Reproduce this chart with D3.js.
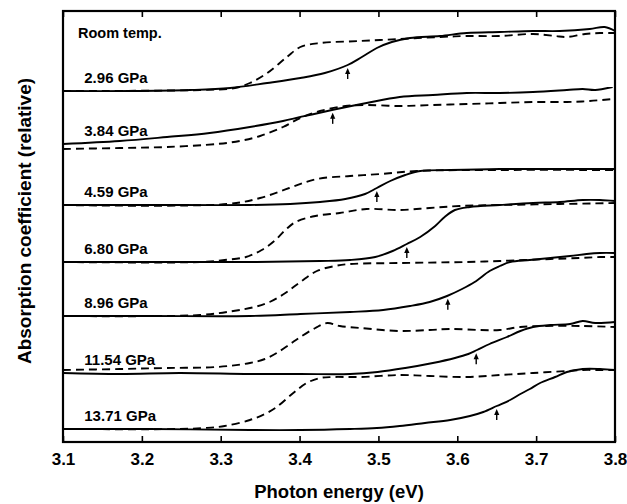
<!DOCTYPE html>
<meta charset="utf-8">
<style>
  body { margin: 0; background: #fff; }
  text { font-family: "Liberation Sans", Arial, sans-serif; font-weight: bold; fill: #000; }
  .frame { fill: none; stroke: #000; stroke-width: 2.2px; }
  .solid { fill: none; stroke: #000; stroke-width: 1.9px; }
  .dashed { fill: none; stroke: #000; stroke-width: 1.9px; stroke-dasharray: 8,5; }
  .axis path { display: none; }
  .axis line { stroke: #000; stroke-width: 1.6px; }
</style>
<body>
<svg width="627" height="504"></svg>
<script src="https://d3js.org/d3.v7.min.js"></script>
<script>

// photon energy ticks (eV)
var energyTicks = [3.1, 3.2, 3.3, 3.4, 3.5, 3.6, 3.7, 3.8];

var pressures = ["2.96 GPa", "3.84 GPa", "4.59 GPa", "6.80 GPa", "8.96 GPa", "11.54 GPa", "13.71 GPa"];
// vertical offset of each spectrum (arbitrary units)
var offsets = [351, 298, 237, 180, 126, 69, 13];
// absorption edge marked by an arrow (eV)
var edgeEnergy = [3.461, 3.442, 3.498, 3.536, 3.588, 3.624, 3.650];

// [energy, absorption above offset]
var solid296 = [[3.10,0],[3.185,0],[3.261,1],[3.312,3],[3.359,8],[3.401,13],[3.432,18],[3.461,26],[3.479,34],[3.498,43],[3.517,49],[3.540,53],[3.578,55],[3.612,58],[3.654,59],[3.696,60],[3.730,60],[3.768,62],[3.787,64],[3.800,60]];
var dash296 = [[3.10,0],[3.274,1],[3.318,3],[3.337,8],[3.359,18],[3.384,34],[3.401,44],[3.426,48],[3.477,50],[3.527,52],[3.578,54],[3.612,55],[3.654,55],[3.696,57],[3.724,55],[3.739,54],[3.762,57],[3.781,58],[3.800,58]];

var solid384 = [[3.10,0],[3.172,3],[3.232,7],[3.286,11],[3.337,17],[3.379,23],[3.401,27],[3.441,34],[3.485,41],[3.527,47],[3.569,49],[3.612,51],[3.654,51],[3.696,52],[3.739,54],[3.759,55],[3.775,54],[3.797,57]];
var dash384 = [[3.10,-5],[3.172,-4],[3.232,-3],[3.295,0],[3.324,3],[3.350,8],[3.379,17],[3.401,26],[3.426,33],[3.458,38],[3.485,39],[3.527,38],[3.569,39],[3.612,40],[3.654,41],[3.696,42],[3.739,42],[3.768,43],[3.797,45]];

var solid459 = [[3.10,0],[3.21,0],[3.337,0],[3.388,1],[3.426,3],[3.458,6],[3.483,11],[3.498,17],[3.515,24],[3.534,30],[3.553,34],[3.591,35],[3.654,36],[3.718,36],[3.781,36],[3.80,36]];
var dash459 = [[3.10,0],[3.309,1],[3.35,7],[3.387,17],[3.422,26],[3.464,29],[3.503,31],[3.549,34],[3.654,35],[3.80,35]];

var solid680 = [[3.10,0],[3.21,0],[3.337,0],[3.426,1],[3.464,2],[3.496,5],[3.518,11],[3.536,18],[3.553,25],[3.572,36],[3.584,45],[3.597,52],[3.616,55],[3.654,57],[3.696,59],[3.73,60],[3.759,62],[3.781,62],[3.80,61]];
var dash680 = [[3.10,0],[3.274,0],[3.305,2],[3.332,5],[3.352,12],[3.368,21],[3.382,32],[3.395,40],[3.42,46],[3.451,49],[3.485,53],[3.527,52],[3.565,54],[3.603,56],[3.654,57],[3.73,58],[3.80,59]];

var solid896 = [[3.10,0],[3.21,0],[3.337,0],[3.401,2],[3.464,4],[3.506,6],[3.54,10],[3.565,14],[3.587,20],[3.606,27],[3.622,34],[3.641,45],[3.654,50],[3.667,54],[3.692,56],[3.718,58],[3.743,60],[3.764,62],[3.781,63],[3.80,63]];
var dash896 = [[3.10,0],[3.274,1],[3.316,5],[3.343,9],[3.362,14],[3.382,23],[3.401,34],[3.422,45],[3.445,50],[3.464,52],[3.527,53],[3.612,54],[3.654,55],[3.718,57],[3.756,58],[3.781,59],[3.80,59]];

var solid1154 = [[3.10,0],[3.172,-1],[3.248,0],[3.337,-1],[3.401,-1],[3.464,-1],[3.499,1],[3.534,5],[3.569,10],[3.597,15],[3.614,19],[3.625,23],[3.641,29],[3.663,36],[3.68,42],[3.696,46],[3.718,48],[3.743,49],[3.759,52],[3.775,50],[3.80,51]];
var dash1154 = [[3.10,3],[3.172,4],[3.232,5],[3.295,6],[3.337,10],[3.356,14],[3.371,20],[3.388,29],[3.401,36],[3.42,45],[3.435,50],[3.451,47],[3.477,45],[3.527,42],[3.565,43],[3.591,44],[3.629,43],[3.654,43],[3.68,46],[3.711,47],[3.759,47],[3.80,46]];

var solid1371 = [[3.10,0],[3.21,0],[3.337,-1],[3.401,-1],[3.464,0],[3.498,1],[3.527,3],[3.559,6],[3.591,9],[3.616,13],[3.633,17],[3.65,23],[3.667,29],[3.68,35],[3.692,40],[3.705,46],[3.724,52],[3.739,57],[3.759,60],[3.781,60],[3.80,59]];
var dash1371 = [[3.10,0],[3.248,0],[3.28,1],[3.305,3],[3.337,9],[3.356,15],[3.371,22],[3.392,36],[3.409,46],[3.426,51],[3.442,52],[3.477,52],[3.527,54],[3.565,53],[3.612,52],[3.654,54],[3.696,56],[3.739,58],[3.759,59],[3.781,59],[3.80,59]];

var solids = [solid296, solid384, solid459, solid680, solid896, solid1154, solid1371];
var dashes = [dash296, dash384, dash459, dash680, dash896, dash1154, dash1371];

const svg = d3.select('svg'),
      margin = {top: 11, right: 12, bottom: 62, left: 63},
      width = +svg.attr('width') - margin.left - margin.right,
      height = +svg.attr('height') - margin.top - margin.bottom;

const g = svg.append('g').attr('transform', `translate(${margin.left},${margin.top})`);

const x = d3.scaleLinear().domain([3.1, 3.8]).range([0, width]);
const y = d3.scaleLinear().domain([0, 431]).range([height, 0]);

// curves
pressures.forEach(function(p, i) {
  var off = offsets[i];
  var line = d3.line()
    .x(d => x(d[0]))
    .y(d => y(d[1] + off))
    .curve(d3.curveCatmullRom.alpha(0.5));

  g.append('path').attr('class', 'dashed').attr('d', line(dashes[i]));
  g.append('path').attr('class', 'solid').attr('d', line(solids[i]));

  // arrow under the solid curve
  var s = solids[i];
  var j = d3.bisector(d => d[0]).left(s, edgeEnergy[i]);
  var a = s[j - 1], b = s[j];
  var t = (edgeEnergy[i] - a[0]) / (b[0] - a[0]);
  var v = a[1] + t * (b[1] - a[1]) + off;
  var ax = x(edgeEnergy[i]), ay = y(v) + 3;
  g.append('line')
    .attr('x1', ax).attr('x2', ax)
    .attr('y1', ay + 3).attr('y2', ay + 11)
    .attr('stroke', '#000').attr('stroke-width', 1.4);
  g.append('path')
    .attr('d', `M${ax},${ay} L${ax - 2.6},${ay + 6} L${ax + 2.6},${ay + 6} Z`)
    .attr('fill', '#000');

  g.append('text')
    .attr('x', x(3.127))
    .attr('y', y(off + 8))
    .style('font-size', '15px')
    .text(p);
});

g.append('text')
  .attr('x', x(3.119))
  .attr('y', y(404))
  .style('font-size', '14.5px')
  .text('Room temp.');

// axes: inward ticks top and bottom
const xAxis = d3.axisBottom(x)
  .tickValues(energyTicks)
  .tickFormat(d3.format('.1f'))
  .tickSizeInner(-6)
  .tickSizeOuter(0)
  .tickPadding(11);

g.append('g')
  .attr('class', 'axis')
  .attr('transform', `translate(0,${height})`)
  .call(xAxis)
  .selectAll('text')
  .style('font-size', '17px');

g.append('g')
  .attr('class', 'axis')
  .call(d3.axisTop(x).tickValues(energyTicks).tickSizeInner(-6).tickSizeOuter(0).tickFormat(''));

g.append('rect')
  .attr('class', 'frame')
  .attr('width', width)
  .attr('height', height);

svg.append('text')
  .attr('x', margin.left + width / 2)
  .attr('y', 498)
  .attr('text-anchor', 'middle')
  .style('font-size', '18.5px')
  .text('Photon energy (eV)');

svg.append('text')
  .attr('transform', 'translate(31,221) rotate(-90)')
  .attr('text-anchor', 'middle')
  .style('font-size', '19px')
  .text('Absorption coefficient (relative)');

</script>
